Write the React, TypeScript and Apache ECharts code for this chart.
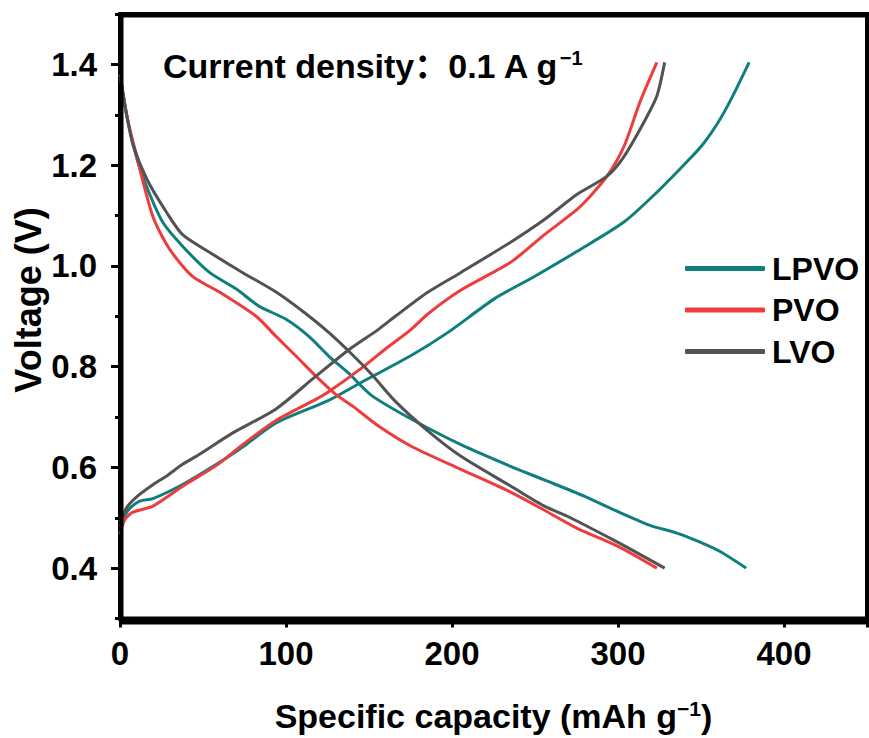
import React, { useEffect, useRef } from "react";
import * as echarts from "echarts";

const seriesNames = ["LPVO", "PVO", "LVO"];
const seriesColors = ["#0f7f7d", "#ee3b3b", "#525252"];

const yMajorTicks = [0.4, 0.6, 0.8, 1.0, 1.2, 1.4];
const yMinorTicks = [0.3, 0.5, 0.7, 0.9, 1.1, 1.3, 1.5];

const lpvoDischarge: [number, number][] = [
  [0, 1.38], [4, 1.3], [9, 1.227], [15, 1.166], [25.7, 1.087], [37.7, 1.039], [53.9, 0.987],
  [70.1, 0.954], [83.8, 0.92], [100, 0.894], [113.8, 0.86], [125.7, 0.821],
  [137.7, 0.787], [151.5, 0.743], [175.4, 0.696], [205.4, 0.645], [235.3, 0.602],
  [255.7, 0.575], [279.6, 0.543], [300, 0.512], [319.2, 0.485], [335, 0.47],
  [349.1, 0.452], [362, 0.432], [377.2, 0.4],
];
const lpvoCharge: [number, number][] = [
  [0, 0.483], [3, 0.505], [6, 0.519], [12, 0.533], [19.8, 0.538], [37.7, 0.566], [58.1, 0.606],
  [75, 0.643], [94, 0.688], [125.7, 0.733], [145.5, 0.769], [175.4, 0.822],
  [197.6, 0.868], [225.7, 0.935], [249.7, 0.979], [275.4, 1.029],
  [303.6, 1.087], [323.4, 1.146], [343.1, 1.212], [352, 1.245], [360, 1.283],
  [368, 1.33], [379, 1.404],
];
const pvoDischarge: [number, number][] = [
  [0, 1.38], [4, 1.3], [9, 1.231], [19.8, 1.098], [29.9, 1.033], [43.7, 0.979], [59.9, 0.948],
  [82, 0.9], [94, 0.86], [106, 0.821], [118, 0.781], [129.9, 0.745], [140, 0.722],
  [155.7, 0.682], [175.4, 0.642], [205.4, 0.596], [235.3, 0.551], [255.7, 0.515],
  [275.4, 0.479], [299.4, 0.444], [323.4, 0.4],
];
const pvoCharge: [number, number][] = [
  [0, 0.467], [3, 0.497], [7.8, 0.511], [19.8, 0.523], [38.9, 0.565], [58.1, 0.604],
  [75, 0.648], [94, 0.693], [118, 0.735], [125.7, 0.75], [145.5, 0.797],
  [159.9, 0.835], [175.4, 0.874], [185.6, 0.905], [205.4, 0.952], [235.3, 1.007],
  [255.7, 1.062], [275.4, 1.112], [283.2, 1.138], [293.4, 1.178], [303.6, 1.237],
  [313.2, 1.325], [323.4, 1.404],
];
const lvoDischarge: [number, number][] = [
  [0, 1.38], [4, 1.3], [7.8, 1.241], [16.2, 1.172], [28.1, 1.106], [37.7, 1.062], [53.9, 1.027],
  [73.7, 0.987], [94, 0.948], [112, 0.905], [125.7, 0.868], [137.7, 0.831],
  [151.5, 0.785], [165.9, 0.731], [185.6, 0.672], [205.4, 0.622], [235.3, 0.563],
  [255.7, 0.523], [269.5, 0.503], [299.4, 0.452], [328.1, 0.4],
];
const lvoCharge: [number, number][] = [
  [0, 0.491], [4.2, 0.521], [10.2, 0.542], [20, 0.566], [28.1, 0.583], [37.7, 0.606],
  [47.9, 0.626], [67.7, 0.668], [94, 0.716], [118, 0.781],
  [137.7, 0.833], [155.7, 0.874], [165.9, 0.9], [185.6, 0.948], [205.4, 0.987],
  [235.3, 1.047], [255.7, 1.092], [275.4, 1.142], [293.4, 1.178], [303.6, 1.217],
  [315.6, 1.285], [323.4, 1.337], [328.1, 1.404],
];

const curveSets = [
  [lpvoDischarge, lpvoCharge],
  [pvoDischarge, pvoCharge],
  [lvoDischarge, lvoCharge],
];

const FONT = "'Liberation Sans', Arial, 'Noto Sans CJK SC', sans-serif";

export default function App() {
  const ref = useRef<HTMLDivElement>(null);
  useEffect(() => {
    document.body.style.margin = "0";
    if (!ref.current) return;
    const chart = echarts.init(ref.current, undefined, { renderer: "svg" });
    const series: any[] = [];
    curveSets.forEach((pair, i) => {
      pair.forEach((data) => {
        series.push({
          type: "line",
          name: seriesNames[i],
          data,
          xAxisIndex: 0,
          yAxisIndex: 0,
          showSymbol: false,
          symbol: "none",
          smooth: 0.25,
          lineStyle: { color: seriesColors[i], width: 3 },
          itemStyle: { color: seriesColors[i] },
          z: 3,
        });
      });
    });
    const option: any = {
      animation: false,
      backgroundColor: "#ffffff",
      grid: {
        left: 120,
        right: 2,
        top: 14,
        bottom: 119,
        show: true,
        borderColor: "#000",
        borderWidth: 4,
        containLabel: false,
      },
      legend: {
        orient: "vertical",
        left: 680,
        top: 245,
        itemWidth: 80,
        itemHeight: 5,
        itemGap: 4.5,
        icon: "roundRect",
        data: seriesNames,
        textStyle: {
          fontFamily: FONT,
          fontWeight: "bold",
          fontSize: 32,
          color: "#000",
          lineHeight: 37,
          padding: [0, 0, 0, 2],
        },
      },
      xAxis: {
        type: "value",
        min: 0,
        max: 450,
        interval: 100,
        name: "Specific capacity (mAh g{sup|−1})",
        nameLocation: "middle",
        nameGap: 79,
        nameTextStyle: {
          fontFamily: FONT,
          fontWeight: "bold",
          fontSize: 34,
          color: "#000",
          rich: {
            sup: {
              fontFamily: FONT,
              fontWeight: "bold",
              fontSize: 21,
              color: "#000",
              verticalAlign: "top",
              padding: [0, 0, 16, 0],
            },
          },
        },
        axisLine: { show: true, lineStyle: { color: "#000", width: 4 } },
        axisTick: { show: true, inside: false, length: 9, lineStyle: { color: "#000", width: 3 } },
        minorTick: { show: true, splitNumber: 2, length: 5, lineStyle: { color: "#000", width: 3 } },
        splitLine: { show: false },
        axisLabel: {
          fontFamily: FONT,
          fontWeight: "bold",
          fontSize: 33,
          color: "#000",
          margin: 18,
          showMaxLabel: false,
        },
      },
      yAxis: [
        {
          type: "value",
          min: 0.3,
          max: 1.5,
          axisLine: { show: true, lineStyle: { color: "#000", width: 4 } },
          axisTick: {
            show: true,
            inside: false,
            length: 9,
            customValues: yMajorTicks,
            lineStyle: { color: "#000", width: 3 },
          },
          splitLine: { show: false },
          axisLabel: {
            fontFamily: FONT,
            fontWeight: "bold",
            fontSize: 33,
            color: "#000",
            margin: 23,
            customValues: yMajorTicks,
            formatter: (v: number) => v.toFixed(1),
          },
        },
        {
          type: "value",
          min: 0.3,
          max: 1.5,
          position: "left",
          axisLine: { show: false },
          axisTick: {
            show: true,
            inside: false,
            length: 5,
            customValues: yMinorTicks,
            lineStyle: { color: "#000", width: 3 },
          },
          axisLabel: { show: false },
          splitLine: { show: false },
        },
      ],
      graphic: [
        {
          type: "rect",
          left: 119,
          top: 13,
          shape: { width: 750, height: 607 },
          style: { fill: "none", stroke: "#000", lineWidth: 4 },
          z: 10,
          silent: true,
        },
        {
          type: "text",
          x: 28,
          y: 300,
          rotation: Math.PI / 2,
          style: {
            text: "Voltage (V)",
            fontFamily: FONT,
            fontWeight: "bold",
            fontSize: 36,
            fill: "#000",
            align: "center",
            verticalAlign: "middle",
          },
        },
        {
          type: "text",
          left: 163,
          top: 48,
          style: {
            text: "Current density：0.1 A g{sup|−1}",
            fontFamily: FONT,
            fontWeight: "bold",
            fontSize: 34,
            fill: "#000",
            rich: {
              sup: {
                fontFamily: FONT,
                fontWeight: "bold",
                fontSize: 20,
                fill: "#000",
                verticalAlign: "top",
                padding: [0, 0, 15, 0],
              },
            },
          },
        },
      ],
      series,
    };
    chart.setOption(option);
    return () => chart.dispose();
  }, []);
  return <div ref={ref} style={{ width: 869, height: 738 }} />;
}
